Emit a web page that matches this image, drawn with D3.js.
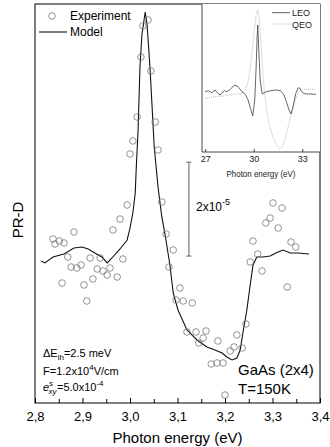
<!DOCTYPE html>
<html>
<head>
<meta charset="utf-8">
<script src="https://cdn.jsdelivr.net/npm/d3@7"></script>
<style>
  body { margin: 0; background: #fff; }
  svg { display: block; font-family: "Liberation Sans", Arial, sans-serif; }
</style>
</head>
<body>
<div id="chart"></div>
<script>
// model curve (photon energy in eV, PR-D in units of 1e-5)
const modelE = [2.813, 2.821, 2.838, 2.861, 2.882, 2.899, 2.912, 2.926, 2.941, 2.952, 2.962, 2.979, 2.994,
  3.000, 3.006, 3.011, 3.013, 3.017, 3.021, 3.025, 3.032, 3.036, 3.042, 3.048, 3.051, 3.059, 3.067, 3.074,
  3.084, 3.091, 3.101, 3.120, 3.141, 3.162, 3.179, 3.194, 3.204, 3.215, 3.225, 3.232, 3.238, 3.246, 3.253,
  3.259, 3.267, 3.280, 3.295, 3.307, 3.322, 3.337, 3.354, 3.377];
const modelV = [0.025, -0.017, 0.110, 0.174, 0.302, 0.323, 0.281, 0.196, 0.110, -0.017, 0.089, 0.281, 0.473,
  0.728, 1.048, 1.474, 1.964, 2.816, 4.158, 4.840, 5.330, 5.053, 4.158, 3.029, 2.454, 1.602, 0.963, 0.579,
  -0.060, -0.657, -1.019, -1.445, -1.658, -1.807, -1.871, -1.935, -2.020, -2.084, -2.041, -1.871, -1.487, -1.019, -0.486,
  -0.060, 0.110, 0.110, 0.132, 0.196, 0.260, 0.196, 0.196, 0.174];

// experiment points
const expE = [3.038, 3.027, 3.023, 3.044, 3.015, 3.053, 3.006, 3.059, 3.000, 3.067, 2.994, 2.979, 2.964,
  2.882, 2.838, 2.842, 2.851, 2.861, 2.869, 2.916, 2.937, 2.985, 2.876, 2.888, 2.897, 2.931, 2.943, 2.952,
  2.958, 2.973, 2.922, 2.857, 2.903, 2.909, 3.076, 3.091, 3.082, 3.105, 3.097, 3.112, 3.131, 3.120, 3.139,
  3.160, 3.154, 3.145, 3.185, 3.225, 3.244, 3.211, 3.219, 3.236, 3.171, 3.183, 3.196, 3.200, 3.301, 3.320,
  3.295, 3.286, 3.312, 3.259, 3.339, 3.349, 3.269, 3.253, 3.278, 3.331];
const expV = [5.159, 5.032, 4.371, 4.073, 3.093, 2.986, 2.582, 2.390, 2.305, 1.282, 1.218, 0.920, 0.686,
  0.643, 0.494, 0.387, 0.451, 0.409, 0.110, 0.089, 0.089, 0.068, -0.103, -0.124, -0.060, -0.145, -0.188, -0.273,
  -0.124, -0.316, -0.358, -0.444, -0.486, -0.827, 0.600, 0.259, -0.103, -0.550, -0.806, -0.827, -0.870, -1.487, -1.487,
  -1.466, -1.615, -1.722, -1.679, -1.551, -1.317, -1.892, -1.807, -1.828, -2.169, -2.148, -2.148, -2.830, 1.261, 1.154,
  0.941, 0.835, 0.728, 0.451, 0.430, 0.323, 0.174, 0.004, -0.188, -0.529];

const xTicks = [2.8, 2.9, 3.0, 3.1, 3.2, 3.3, 3.4];
const xMinorTicks = [2.85, 2.95, 3.05, 3.15, 3.25, 3.35];

// inset: LEO / QEO spectra over a wide photon energy range
const leoE = [26.987, 27.193, 27.405, 27.611, 27.779, 27.923, 28.029, 28.191, 28.341, 28.547, 28.753, 28.902,
  29.065, 29.277, 29.483, 29.651, 29.794, 29.938, 30.063, 30.150, 30.212, 30.250, 30.312, 30.400, 30.524, 30.730,
  31.042, 31.354, 31.666, 31.872, 32.022, 32.184, 32.309, 32.433, 32.602, 32.745, 32.851, 33.020, 33.225, 33.537, 33.849];
const leoV = [0.111, 0.213, 0.010, 0.284, -0.051, -0.223, 0.010, 0.213, 0.111, 0.355, 0.689, 0.760,
  0.557, 0.111, -0.152, -0.730, -1.571, -2.351, -0.730, 2.645, 5.685, 6.871, 4.338, 1.297, -0.122, 0.081,
  0.213, 0.284, 0.213, -0.223, -0.902, -1.743, -2.149, -1.409, -0.051, 0.517, 0.456, 0.010, -0.122, -0.122, -0.152];
const qeoE = [26.987, 27.611, 28.235, 28.859, 29.277, 29.483, 29.651, 29.794, 29.938, 30.063, 30.169, 30.250,
  30.337, 30.437, 30.543, 30.649, 30.774, 30.936, 31.148, 31.354, 31.560, 31.666, 31.809, 31.978, 32.184, 32.396,
  32.602, 32.808, 33.020, 33.225, 33.849];
const qeoV = [-0.558, -0.395, -0.294, -0.152, -0.051, 0.284, 1.125, 2.645, 4.672, 6.699, 8.057, 8.391,
  7.712, 5.351, 2.645, 0.284, -1.409, -3.091, -4.277, -5.118, -5.625, -5.625, -5.291, -4.449, -3.091, -1.743,
  -0.558, 0.213, 0.355, 0.355, 0.355];
const insetTicks = [27, 30, 33];

const W = 330, H = 447;
const margin = { top: 4, right: 10, bottom: 44, left: 35 };
const width = W - margin.left - margin.right;
const height = H - margin.top - margin.bottom;

const svg = d3.select('#chart').append('svg')
  .attr('width', W)
  .attr('height', H);

const g = svg.append('g')
  .attr('transform', `translate(${margin.left},${margin.top})`);

const x = d3.scaleLinear().domain([2.8, 3.4]).range([0, width]);
const y = d3.scaleLinear().domain([-3, 5.5]).range([height, 0]);

const comma = d3.formatLocale({ decimal: ',', thousands: '.', grouping: [3], currency: ['', ''] }).format('.1f');

// x axis, ticks pointing inward
g.append('g')
  .attr('transform', `translate(0,${height})`)
  .call(d3.axisBottom(x).tickValues(xTicks).tickSizeInner(-5).tickSizeOuter(0).tickPadding(9).tickFormat(comma))
  .call(a => a.select('.domain').remove())
  .call(a => a.selectAll('text').style('font-size', '13px').attr('fill', '#000'));

g.append('g')
  .attr('transform', `translate(0,${height})`)
  .call(d3.axisBottom(x).tickValues(xMinorTicks).tickSizeInner(-4).tickSizeOuter(0).tickFormat(''))
  .call(a => a.select('.domain').remove());

g.append('rect')
  .attr('width', width)
  .attr('height', height)
  .attr('fill', 'none')
  .attr('stroke', '#000')
  .attr('stroke-width', 1);

// axis titles
svg.append('text')
  .attr('x', margin.left + width / 2)
  .attr('y', 443)
  .attr('text-anchor', 'middle')
  .style('font-size', '15px')
  .text('Photon energy (eV)');

svg.append('text')
  .attr('transform', 'translate(23,220) rotate(-90)')
  .attr('text-anchor', 'middle')
  .style('font-size', '15px')
  .text('PR-D');

// model line
const line = d3.line()
  .x(d => x(d[0]))
  .y(d => y(d[1]));

g.append('path')
  .datum(modelE.map((e, i) => [e, modelV[i]]))
  .attr('fill', 'none')
  .attr('stroke', '#111')
  .attr('stroke-width', 1.1)
  .attr('d', line);

// experiment circles
g.selectAll('.dot')
  .data(expE.map((e, i) => [e, expV[i]]))
  .enter()
  .append('circle')
  .attr('class', 'dot')
  .attr('cx', d => x(d[0]))
  .attr('cy', d => y(d[1]))
  .attr('r', 3.3)
  .attr('fill', 'none')
  .attr('stroke', '#777')
  .attr('stroke-width', 0.8);

// scale bar (2x10^-5)
const barX = x(3.124), barTop = y(2.13), barBot = y(0.13);
const bar = g.append('g').attr('stroke', '#777').attr('stroke-width', 1.2);
bar.append('line').attr('x1', barX).attr('x2', barX).attr('y1', barTop).attr('y2', barBot);
bar.append('line').attr('x1', barX - 2.5).attr('x2', barX + 2.5).attr('y1', barTop).attr('y2', barTop);
bar.append('line').attr('x1', barX - 2.5).attr('x2', barX + 2.5).attr('y1', barBot).attr('y2', barBot);

const barLabel = svg.append('text').attr('x', 196).attr('y', 211).style('font-size', '12px');
barLabel.append('tspan').text('2x10');
barLabel.append('tspan').attr('dy', -6).style('font-size', '9px').text('-5');

// legend
svg.append('circle').attr('cx', 52).attr('cy', 16).attr('r', 3.3)
  .attr('fill', 'none').attr('stroke', '#777').attr('stroke-width', 0.8);
svg.append('text').attr('x', 70).attr('y', 20).style('font-size', '12px').text('Experiment');
svg.append('line').attr('x1', 39).attr('x2', 67).attr('y1', 32).attr('y2', 32)
  .attr('stroke', '#111').attr('stroke-width', 1.1);
svg.append('text').attr('x', 70).attr('y', 36).style('font-size', '12px').text('Model');

// parameters, lower left
const p1 = svg.append('text').attr('x', 43).attr('y', 357).style('font-size', '11px');
p1.append('tspan').text('ΔE');
p1.append('tspan').attr('dy', 3).style('font-size', '8px').text('lh');
p1.append('tspan').attr('dy', -3).text('=2.5 meV');

const p2 = svg.append('text').attr('x', 43).attr('y', 375).style('font-size', '11px');
p2.append('tspan').text('F=1.2x10');
p2.append('tspan').attr('dy', -5).style('font-size', '8px').text('4');
p2.append('tspan').attr('dy', 5).text('V/cm');

const p3 = svg.append('text').attr('x', 43).attr('y', 391).style('font-size', '11px');
p3.append('tspan').style('font-style', 'italic').text('e');
p3.append('tspan').attr('x', 49).attr('dy', -5).style('font-size', '8px').style('font-style', 'italic').text('s');
p3.append('tspan').attr('x', 48.5).attr('dy', 8).style('font-size', '8px').style('font-style', 'italic').text('xy');
p3.append('tspan').attr('x', 57).attr('dy', -3).text('=5.0x10');
p3.append('tspan').attr('dy', -5).style('font-size', '8px').text('-4');

// sample label
svg.append('text').attr('x', 238).attr('y', 375).style('font-size', '15px').text('GaAs (2x4)');
svg.append('text').attr('x', 238).attr('y', 394).style('font-size', '15px').text('T=150K');

// inset
const insetLeft = 167, insetW = width - insetLeft, insetH = 148;
const inset = g.append('g').attr('transform', `translate(${insetLeft},0)`);
const xi = d3.scaleLinear().domain([26.8, 34.1]).range([0, insetW]);
const yi = d3.scaleLinear().domain([-6, 9]).range([insetH, 0]);

inset.append('rect').attr('width', insetW).attr('height', insetH).attr('fill', '#fff');

inset.append('g')
  .attr('transform', `translate(0,${insetH})`)
  .call(d3.axisBottom(xi).tickValues(insetTicks).tickSizeInner(-3).tickSizeOuter(0).tickPadding(4))
  .call(a => a.select('.domain').remove())
  .call(a => a.selectAll('text').style('font-size', '9px').attr('fill', '#222'))
  .call(a => a.selectAll('line').attr('stroke', '#444'));

const insetLine = d3.line().x(d => xi(d[0])).y(d => yi(d[1]));

inset.append('path')
  .datum(qeoE.map((e, i) => [e, qeoV[i]]))
  .attr('fill', 'none')
  .attr('stroke', '#aaa')
  .attr('stroke-width', 0.8)
  .attr('stroke-dasharray', '1,1')
  .attr('d', insetLine);

inset.append('path')
  .datum(leoE.map((e, i) => [e, leoV[i]]))
  .attr('fill', 'none')
  .attr('stroke', '#555')
  .attr('stroke-width', 0.9)
  .attr('d', insetLine);

inset.append('path')
  .attr('d', `M0,0V${insetH}H${insetW}`)
  .attr('fill', 'none')
  .attr('stroke', '#333')
  .attr('stroke-width', 0.9);

inset.append('text')
  .attr('x', insetW / 2)
  .attr('y', insetH + 25)
  .attr('text-anchor', 'middle')
  .attr('textLength', 69)
  .attr('lengthAdjust', 'spacingAndGlyphs')
  .style('font-size', '9px')
  .attr('fill', '#222')
  .text('Photon energy (eV)');

// inset legend
const il = svg.append('g').style('font-size', '9px').attr('fill', '#222');
il.append('line').attr('x1', 272).attr('x2', 290).attr('y1', 12.7).attr('y2', 12.7)
  .attr('stroke', '#555').attr('stroke-width', 0.9);
il.append('text').attr('x', 292).attr('y', 16).text('LEO');
il.append('line').attr('x1', 272).attr('x2', 292).attr('y1', 24).attr('y2', 24)
  .attr('stroke', '#aaa').attr('stroke-width', 0.8).attr('stroke-dasharray', '1,1');
il.append('text').attr('x', 292).attr('y', 27.5).text('QEO');
</script>
</body>
</html>
